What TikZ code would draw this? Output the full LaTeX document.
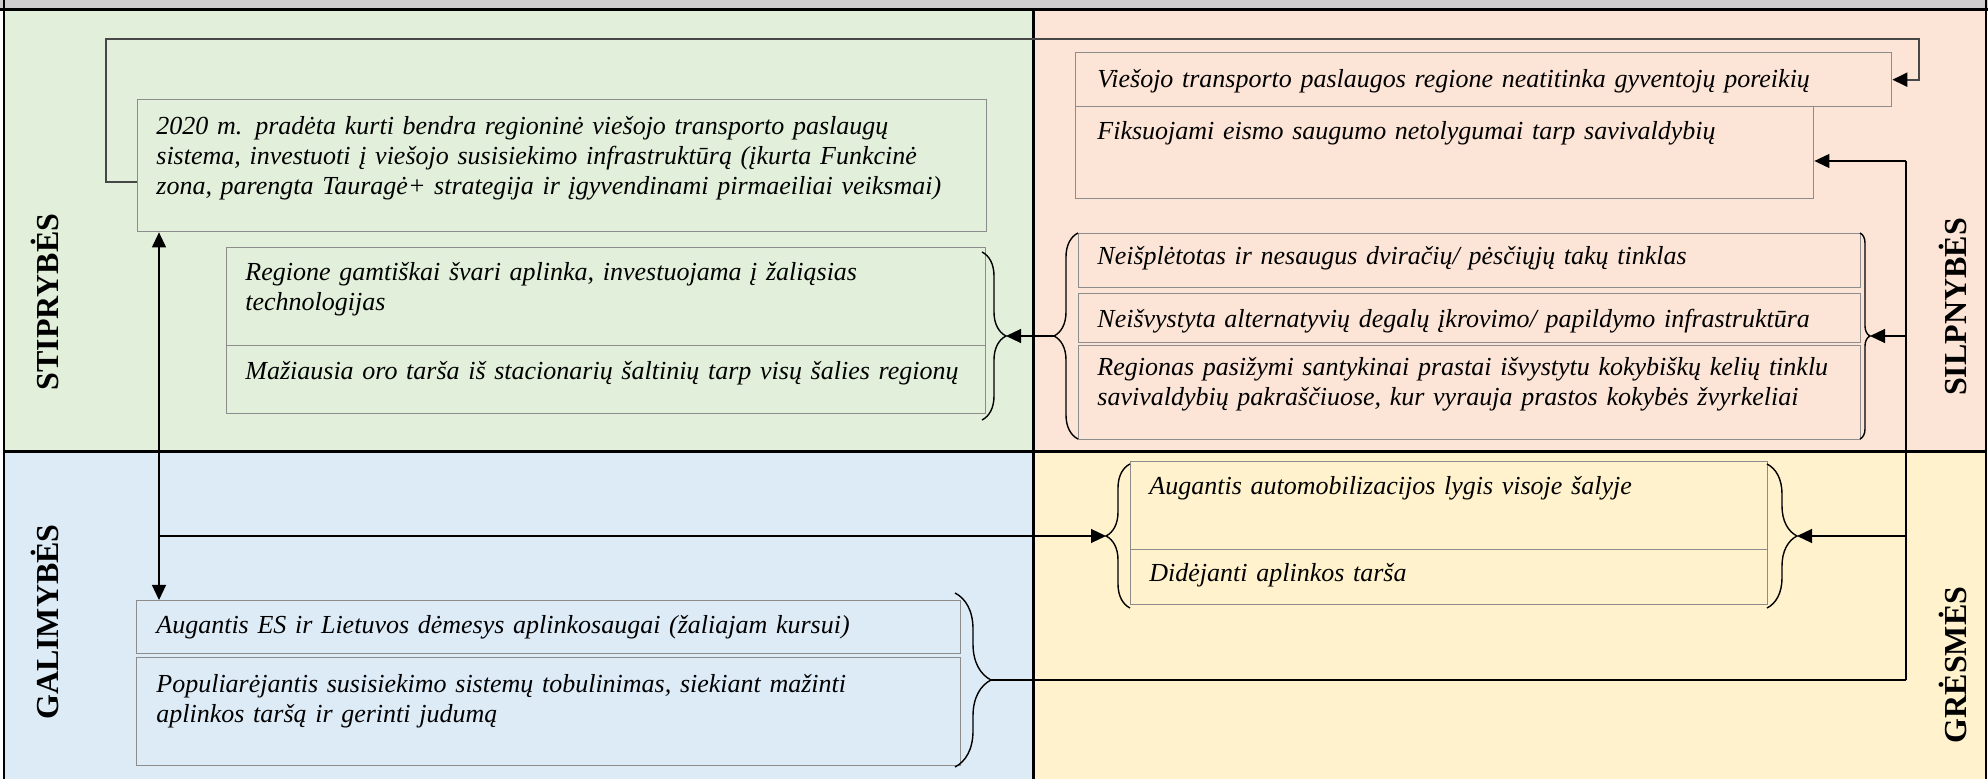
\documentclass[tikz,border=0pt]{standalone}
\usepackage{fontspec}
\setmainfont{Liberation Serif}
\usepackage{tikz}
\usetikzlibrary{arrows.meta}
\usetikzlibrary{decorations.pathreplacing}
\usetikzlibrary{positioning}

\definecolor{strgreen}{HTML}{E2EFDA}
\definecolor{weakpink}{HTML}{FCE4D6}
\definecolor{oppblue}{HTML}{DDEBF7}
\definecolor{thryellow}{HTML}{FFF2CC}
\definecolor{headgray}{HTML}{D0CECE}
\definecolor{boxgray}{HTML}{8C8C8C}
\definecolor{loopgray}{HTML}{474747}

\begin{document}
\begin{tikzpicture}[x=0.5pt, y=-0.5pt,
    box/.style 2 args={draw=boxgray, line width=0.7pt, anchor=north west, inner sep=0pt,
        minimum width=#1*0.5pt, minimum height=#2*0.5pt},
    txt/.style={anchor=base west, inner sep=0pt, text width=460pt, align=left,
        font=\fontsize{13}{14.8}\selectfont\itshape},
    side/.style={rotate=90, font=\fontsize{16}{16}\selectfont\bfseries},
    conn/.style={line width=0.6pt},
    arr/.style={conn, -{Triangle[length=7.5pt, width=7pt, black]}},
    curly/.style={decorate, decoration={brace, amplitude=#1}, line width=0.7pt},
    curly/.default=12pt]
    \useasboundingbox (0,0) rectangle (1988,779);

    % Quadrants
    \fill[headgray] (0,0) rectangle (1988,10);
    \fill[strgreen] (4,10) rectangle (1033,452);
    \fill[weakpink] (1033,10) rectangle (1986,452);
    \fill[oppblue] (4,452) rectangle (1033,779);
    \fill[thryellow] (1033,452) rectangle (1986,779);
    \draw[line width=1.5pt] (0,10) -- (1988,10);
    \draw[line width=1.5pt] (1033,10) -- (1033,779);
    \draw[line width=1.5pt] (4,452) -- (1986,452);
    \draw[line width=1pt] (4,0) -- (4,779);
    \draw[line width=1pt] (1986,0) -- (1986,779);

    % Side titles
    \node[side] (strtitle) at (45,302) {STIPRYBĖS};
    \node[side] (weaktitle) at (1953,307) {SILPNYBĖS};
    \node[side] (opptitle) at (45,622) {GALIMYBĖS};
    \node[side] (thrtitle) at (1953,665) {GRĖSMĖS};

    % Stiprybes
    \node[box={849}{132}] (s1) at (137,99) {};
    \node[txt] (s1t) at ([shift={(19,36)}]s1.north west) {2020 m. pradėta kurti bendra regioninė viešojo transporto paslaugų\\
        sistema, investuoti į viešojo susisiekimo infrastruktūrą (įkurta Funkcinė\\
        zona, parengta Tauragė+ strategija ir įgyvendinami pirmaeiliai veiksmai)};
    \node[box={759}{98}] (s2) at (226,247) {};
    \node[txt] (s2t) at ([shift={(19,34)}]s2.north west) {Regione gamtiškai švari aplinka, investuojama į žaliąsias\\ technologijas};
    \node[box={759}{68}] (s3) at (226,345) {};
    \node[txt] (s3t) at ([shift={(19,35)}]s3.north west) {Mažiausia oro tarša iš stacionarių šaltinių tarp visų šalies regionų};
    \draw[curly] (982,252) -- (982,420);
    \coordinate (sbr) at (1006,336);

    % Silpnybes
    \node[box={816}{54}] (w1) at (1075,52) {};
    \node[txt] (w1t) at ([shift={(22,36)}]w1.north west) {Viešojo transporto paslaugos regione neatitinka gyventojų poreikių};
    \node[box={738}{92}] (w2) at (1075,106) {};
    \node[txt] (w2t) at ([shift={(22,34)}]w2.north west) {Fiksuojami eismo saugumo netolygumai tarp savivaldybių};
    \node[box={782}{54}] (w3) at (1078,233) {};
    \node[txt] (w3t) at ([shift={(19,32)}]w3.north west) {Neišplėtotas ir nesaugus dviračių/ pėsčiųjų takų tinklas};
    \node[box={782}{49}] (w4) at (1078,293) {};
    \node[txt] (w4t) at ([shift={(19,35)}]w4.north west) {Neišvystyta alternatyvių degalų įkrovimo/ papildymo infrastruktūra};
    \node[box={782}{94}] (w5) at (1078,345) {};
    \node[txt] (w5t) at ([shift={(19,31)}]w5.north west) {Regionas pasižymi santykinai prastai išvystytu kokybiškų kelių tinklu\\
        savivaldybių pakraščiuose, kur vyrauja prastos kokybės žvyrkeliai};
    \draw[curly] (1078,439) -- (1078,233);
    \coordinate (wlb) at (1054,336);
    \draw[curly=5pt] (1860,233) -- (1860,439);
    \coordinate (wrb) at (1870,336);

    % Gresmes
    \node[box={637}{88}] (t1) at (1130,461) {};
    \node[txt] (t1t) at ([shift={(19,34)}]t1.north west) {Augantis automobilizacijos lygis visoje šalyje};
    \node[box={637}{55}] (t2) at (1130,549) {};
    \node[txt] (t2t) at ([shift={(19,33)}]t2.north west) {Didėjanti aplinkos tarša};
    \draw[curly] (1130,608) -- (1130,464);
    \coordinate (tlb) at (1106,536);
    \draw[curly=15pt] (1767,464) -- (1767,608);
    \coordinate (trb) at (1797,536);

    % Galimybes
    \node[box={824}{53}] (o1) at (136,600) {};
    \node[txt] (o1t) at ([shift={(20,34)}]o1.north west) {Augantis ES ir Lietuvos dėmesys aplinkosaugai (žaliajam kursui)};
    \node[box={824}{108}] (o2) at (136,657) {};
    \node[txt] (o2t) at ([shift={(20,36)}]o2.north west) {Populiarėjantis susisiekimo sistemų tobulinimas, siekiant mažinti\\
        aplinkos taršą ir gerinti judumą};
    \draw[curly=18pt] (955,593) -- (955,767);
    \coordinate (obr) at (991,680);

    % Loop from the first strength to the first weakness
    \coordinate (loopL) at (106,39);
    \coordinate (loopR) at (1919,39);
    \draw[arr, draw=loopgray, line width=1pt] ([shift={(0,-50)}]s1.south west) -| (loopL) -- (loopR) |- (w1.east);

    % Right rail
    \coordinate (rtop) at (1906,161);
    \coordinate (rbot) at (1906,680);
    \draw[conn] (rtop) -- (rbot);
    \draw[arr] (rtop) -- (rtop -| w2.east);
    \draw[arr] (rtop |- wrb) -- (wrb);
    \draw[arr] (rtop |- trb) -- (trb);
    \draw[conn] (rbot) -- (obr);

    % Weaknesses to strengths
    \draw[arr] (wlb) -- (sbr);

    % Left rail
    \coordinate (lrail) at (159,536);
    \draw[arr] (lrail) -- (lrail |- s1.south);
    \draw[arr] (lrail) -- (lrail |- o1.north);
    \draw[arr] (lrail) -- (tlb);
\end{tikzpicture}
\end{document}
